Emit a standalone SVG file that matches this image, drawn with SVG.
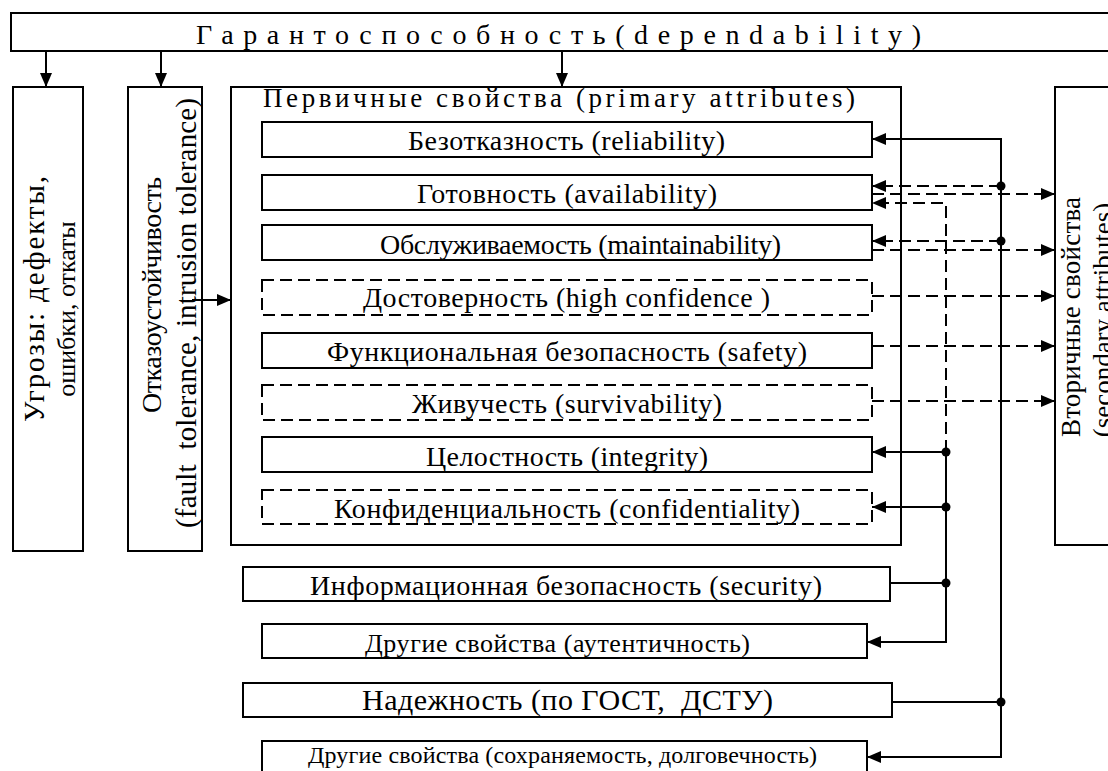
<svg xmlns="http://www.w3.org/2000/svg" width="1108" height="771" viewBox="0 0 1108 771">
<defs>
<marker id="ah" markerUnits="userSpaceOnUse" markerWidth="16" markerHeight="14" refX="14" refY="6" orient="auto">
<path d="M0,0 L14,6 L0,12 z" fill="#000"/>
</marker>
<style>
rect{fill:#fff;stroke:#000;stroke-width:2}
rect.d{stroke-dasharray:12 6}
text{font-family:"Liberation Serif","Times New Roman",serif;fill:#000;white-space:pre}
.t28{font-size:28px}
.c{fill:none;stroke:#000;stroke-width:2}
.cd{fill:none;stroke:#000;stroke-width:2;stroke-dasharray:12 6}
.a{marker-end:url(#ah)}
circle{fill:#000}
</style>
</defs>
<rect x="0" y="0" width="1108" height="771" style="stroke:none;fill:#fff"/>

<g id="top">
<rect x="11" y="13" width="1110" height="38"/>
<text x="196" y="44" font-size="28" textLength="725" lengthAdjust="spacing">Гарантоспособность(dependability)</text>
</g>

<g id="threats">
<rect x="13" y="87" width="70" height="464"/>
<text font-size="29" text-anchor="middle" textLength="246" lengthAdjust="spacing" transform="translate(44,299) rotate(-90)">Угрозы: дефекты,</text>
<text font-size="26" text-anchor="middle" transform="translate(75,309) rotate(-90)">ошибки, откаты</text>
</g>

<g id="tolerance">
<rect x="128" y="87" width="74" height="464"/>
<text font-size="28" text-anchor="middle" textLength="236" lengthAdjust="spacing" transform="translate(161,295) rotate(-90)">Отказоустойчивость</text>
<text font-size="29" text-anchor="middle" textLength="430" lengthAdjust="spacing" transform="translate(196,313) rotate(-90)">(fault  tolerance, intrusion tolerance)</text>
</g>

<g id="primary">
<rect x="231" y="87" width="670" height="458"/>
<text x="263" y="107" font-size="27" textLength="592" lengthAdjust="spacing">Первичные свойства (primary attributes)</text>
</g>

<g id="secondary">
<rect x="1055" y="87" width="80" height="458"/>
<text font-size="27" text-anchor="middle" textLength="240" lengthAdjust="spacing" transform="translate(1080,317) rotate(-90)">Вторичные свойства</text>
<text font-size="27" text-anchor="middle" transform="translate(1112,320) rotate(-90)">(secondary attributes)</text>
</g>

<g id="reliability">
<rect x="262" y="122" width="610" height="35"/>
<text class="t28" x="408" y="150" textLength="317" lengthAdjust="spacing">Безотказность (reliability)</text>
</g>
<g id="availability">
<rect x="262" y="175" width="610" height="35"/>
<text class="t28" x="417" y="203" textLength="300" lengthAdjust="spacing">Готовность (availability)</text>
</g>
<g id="maintainability">
<rect x="262" y="225" width="610" height="35"/>
<text class="t28" x="380" y="254" textLength="401" lengthAdjust="spacing">Обслуживаемость (maintainability)</text>
</g>
<g id="confidence">
<rect class="d" x="262" y="280" width="610" height="35"/>
<text class="t28" x="363" y="307" textLength="407" lengthAdjust="spacing">Достоверность (high confidence )</text>
</g>
<g id="safety">
<rect x="262" y="333" width="610" height="35"/>
<text class="t28" x="327" y="361" textLength="480" lengthAdjust="spacing">Функциональная безопасность (safety)</text>
</g>
<g id="survivability">
<rect class="d" x="262" y="385" width="610" height="35"/>
<text class="t28" x="412" y="413" textLength="310" lengthAdjust="spacing">Живучесть (survivability)</text>
</g>
<g id="integrity">
<rect x="262" y="437" width="610" height="35"/>
<text class="t28" x="426" y="466" textLength="282" lengthAdjust="spacing">Целостность (integrity)</text>
</g>
<g id="confidentiality">
<rect class="d" x="262" y="490" width="610" height="34"/>
<text class="t28" x="334" y="518" textLength="466" lengthAdjust="spacing">Конфиденциальность (confidentiality)</text>
</g>

<g id="security">
<rect x="243" y="567" width="647" height="34"/>
<text class="t28" x="310" y="595" textLength="512" lengthAdjust="spacing">Информационная безопасность (security)</text>
</g>
<g id="other-auth">
<rect x="262" y="624" width="605" height="34"/>
<text x="365" y="652" font-size="26" textLength="385" lengthAdjust="spacing">Другие свойства (аутентичность)</text>
</g>
<g id="gost">
<rect x="243" y="683" width="649" height="34"/>
<text x="362" y="710" font-size="30" textLength="411" lengthAdjust="spacing">Надежность (по ГОСТ,  ДСТУ)</text>
</g>
<g id="other-dur">
<rect x="262" y="741" width="605" height="40"/>
<text x="308" y="763" font-size="24" textLength="509" lengthAdjust="spacing">Другие свойства (сохраняемость, долговечность)</text>
</g>

<g id="connectors">
<path class="c a" d="M46 51 V87"/>
<path class="c a" d="M161 51 V87"/>
<path class="c a" d="M562 51 V87"/>
<path class="c a" d="M192 300 H231"/>

<path class="c a" d="M1001 702 V139 H872"/>
<path class="c a" d="M1001 702 V757 H867"/>
<path class="c" d="M892 702 H1001"/>

<path class="cd a" d="M1001 186 H872"/>
<path class="cd a" d="M1001 241 H872"/>
<path class="cd a" d="M872 194 H1055"/>
<path class="cd a" d="M872 250 H1055"/>
<path class="cd a" d="M872 296 H1055"/>
<path class="cd a" d="M872 346 H1055"/>
<path class="cd a" d="M872 401 H1055"/>
<path class="cd a" d="M946 452 V203 H872"/>

<path class="c a" d="M946 452 H872"/>
<path class="c a" d="M946 507 H872"/>
<path class="c a" d="M946 452 V642 H867"/>
<path class="c" d="M890 583 H946"/>

<circle cx="1001" cy="186" r="4.5"/>
<circle cx="1001" cy="241" r="4.5"/>
<circle cx="1001" cy="702" r="4.5"/>
<circle cx="946" cy="452" r="4.5"/>
<circle cx="946" cy="507" r="4.5"/>
<circle cx="946" cy="583" r="4.5"/>
</g>
</svg>
